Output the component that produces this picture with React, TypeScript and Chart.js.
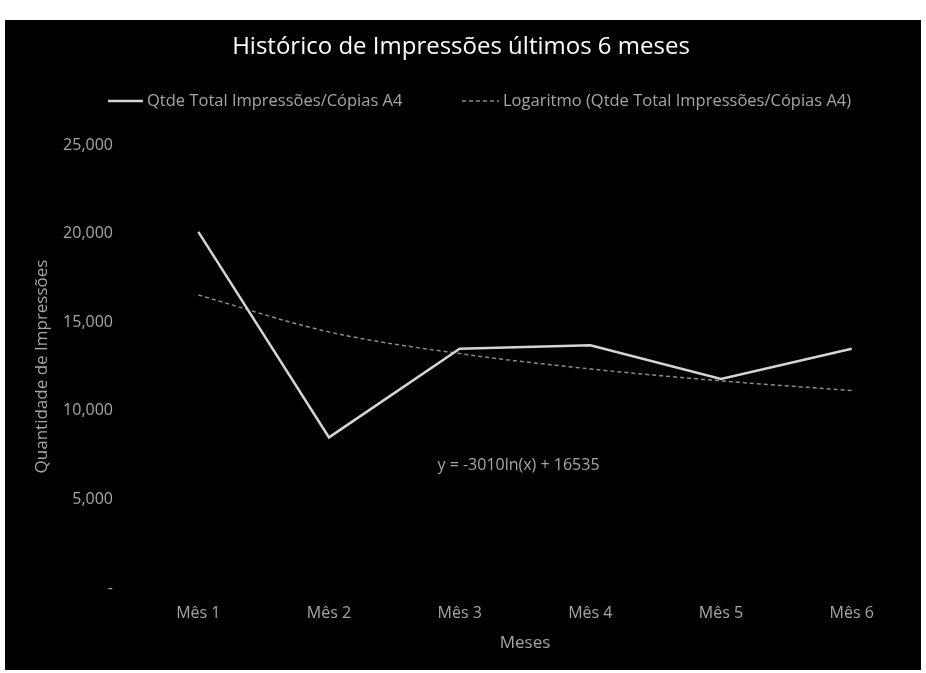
import React, { useEffect, useRef } from "react";
import { Chart, registerables } from "chart.js";

Chart.register(...registerables);

const categories = ["Mês 1", "Mês 2", "Mês 3", "Mês 4", "Mês 5", "Mês 6"];
const seriesName = "Qtde Total Impressões/Cópias A4";
const trendName = "Logaritmo (Qtde Total Impressões/Cópias A4)";
const impressions = [20100, 8500, 13500, 13700, 11800, 13500];
// logarithmic trendline values as shown: y = -3010ln(x) + 16535
const trendValues = [16535, 14449, 13228, 12362, 11691, 11142];
const trendEquation = "y = -3010ln(x) + 16535";
const yTicks = [0, 5000, 10000, 15000, 20000, 25000];
const chartTitle = "Histórico de Impressões últimos 6 meses";
const yTitle = "Quantidade de Impressões";
const xTitle = "Meses";

const FONT = '"Open Sans", "DejaVu Sans", sans-serif';
const LINE_COLOR = "#d4d4d4";
const TREND_COLOR = "#8a8a8a";
const TEXT_COLOR = "#a6a6a6";

export default function App() {
  const ref = useRef<HTMLCanvasElement | null>(null);

  useEffect(() => {
    if (!ref.current) return;

    const bgPlugin = {
      id: "bg",
      beforeDraw(chart: any) {
        const { ctx, width, height } = chart;
        ctx.save();
        ctx.fillStyle = "#000";
        ctx.fillRect(0, 0, width, height);
        ctx.restore();
      },
    };

    const extrasPlugin = {
      id: "extras",
      afterDraw(chart: any) {
        const { ctx } = chart;
        ctx.save();
        // legend
        ctx.font = `16.5px ${FONT}`;
        ctx.textBaseline = "middle";
        ctx.textAlign = "left";
        const ly = 81;
        ctx.strokeStyle = LINE_COLOR;
        ctx.lineWidth = 2.5;
        ctx.setLineDash([]);
        ctx.beginPath();
        ctx.moveTo(103, ly);
        ctx.lineTo(138, ly);
        ctx.stroke();
        ctx.fillStyle = TEXT_COLOR;
        ctx.fillText(seriesName, 142, ly);
        ctx.strokeStyle = TREND_COLOR;
        ctx.lineWidth = 1.5;
        ctx.setLineDash([4, 3]);
        ctx.beginPath();
        ctx.moveTo(457, ly);
        ctx.lineTo(494, ly);
        ctx.stroke();
        ctx.setLineDash([]);
        ctx.fillText(trendName, 498, ly);
        // trendline equation
        const xs = chart.scales.x;
        const ys = chart.scales.y;
        const ex = xs.getPixelForValue(1) + (xs.getPixelForValue(2) - xs.getPixelForValue(1)) * 0.83;
        const ey = ys.getPixelForValue(6900);
        ctx.font = `16px ${FONT}`;
        ctx.fillText(trendEquation, ex, ey);
        ctx.restore();
      },
    };

    const chart = new Chart(ref.current, {
      type: "line",
      data: {
        labels: categories,
        datasets: [
          {
            label: seriesName,
            data: impressions,
            borderColor: LINE_COLOR,
            backgroundColor: LINE_COLOR,
            borderWidth: 2.5,
            pointRadius: 0,
            tension: 0,
            order: 1,
          },
          {
            label: trendName,
            data: trendValues,
            borderColor: TREND_COLOR,
            backgroundColor: TREND_COLOR,
            borderWidth: 1.5,
            borderDash: [4, 3],
            pointRadius: 0,
            cubicInterpolationMode: "monotone",
            order: 2,
          },
        ],
      },
      options: {
        responsive: false,
        animation: false,
        layout: { padding: { top: 0, right: 4, bottom: 0, left: 0 } },
        plugins: {
          legend: { display: false },
          tooltip: { enabled: false },
          title: {
            display: true,
            text: chartTitle,
            color: "#ffffff",
            font: { family: FONT, size: 24, weight: "normal" },
            padding: { top: 12.6, bottom: 83.6 },
          },
        },
        scales: {
          x: {
            offset: true,
            grid: { display: false, drawTicks: false },
            border: { display: false },
            ticks: {
              color: TEXT_COLOR,
              font: { family: FONT, size: 16 },
              padding: 16,
            },
            title: {
              display: true,
              text: xTitle,
              color: TEXT_COLOR,
              font: { family: FONT, size: 17 },
              padding: { top: 0, bottom: 17 },
            },
            afterFit(scale: any) {
              scale.height = 82;
            },
          },
          y: {
            min: 0,
            max: 25000,
            grid: { display: false, drawTicks: false },
            border: { display: false },
            afterBuildTicks(scale: any) {
              scale.ticks = yTicks.map((v) => ({ value: v }));
            },
            ticks: {
              color: TEXT_COLOR,
              font: { family: FONT, size: 16 },
              padding: 20,
              callback: (v: any) => (Number(v) === 0 ? "-" : Number(v).toLocaleString("en-US")),
            },
            title: {
              display: true,
              text: yTitle,
              color: TEXT_COLOR,
              font: { family: FONT, size: 17 },
              padding: { top: 27, bottom: 0 },
            },
            afterFit(scale: any) {
              scale.width = 128;
            },
          },
        },
      },
      plugins: [bgPlugin, extrasPlugin],
    });

    return () => chart.destroy();
  }, []);

  return (
    <div style={{ position: "fixed", inset: 0, background: "#fff" }}>
      <div style={{ position: "absolute", left: 5, top: 20, width: 916, height: 650 }}>
        <canvas ref={ref} width={916} height={650} style={{ display: "block" }} />
      </div>
    </div>
  );
}
